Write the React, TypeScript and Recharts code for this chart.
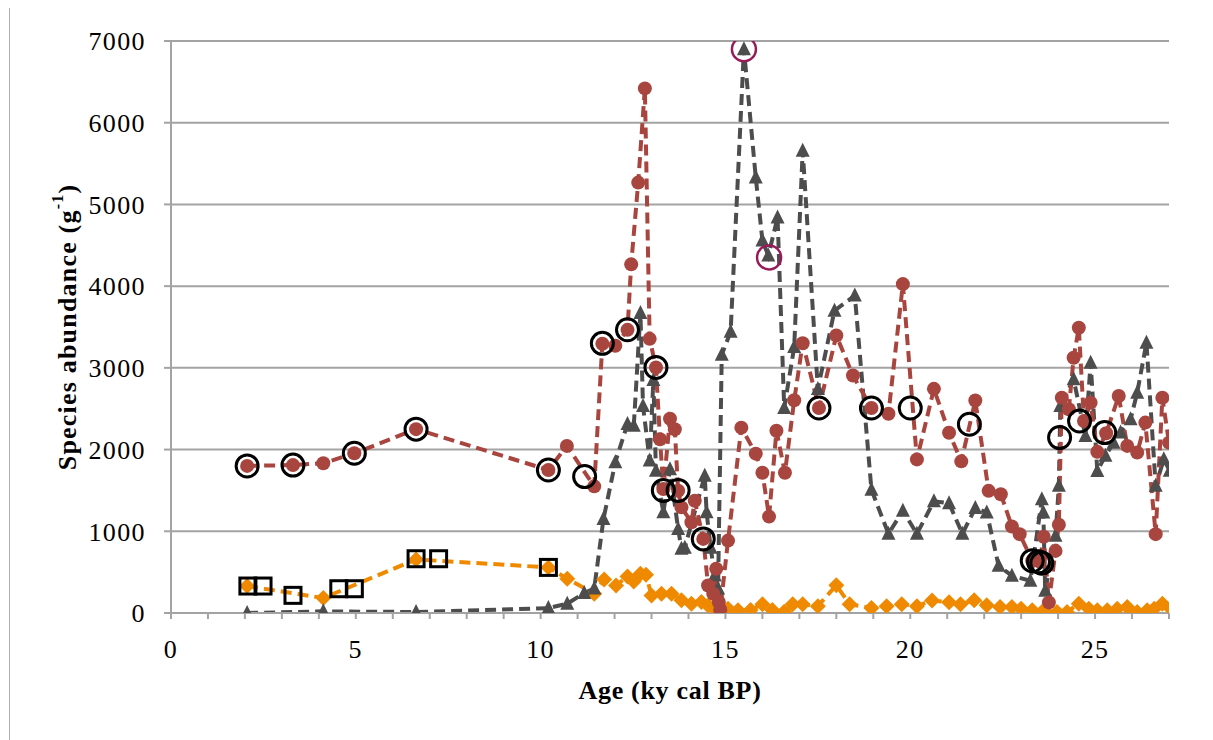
import React from "react";
import {
	ComposedChart,
	Line,
	Scatter,
	XAxis,
	YAxis,
	CartesianGrid,
	Label,
} from "recharts";

// ages (ky cal BP) and abundances
const redAge = [
	2.06, 3.3, 4.12, 4.96, 6.63, 10.21, 10.71, 11.45, 11.67, 12.02, 12.35, 12.45,
	12.64, 12.82, 12.95, 13.12, 13.23, 13.32, 13.5, 13.63, 13.72, 13.81, 14.08,
	14.17, 14.4, 14.53, 14.67, 14.75, 14.82, 14.86, 15.07, 15.43, 15.82, 16.0,
	16.18, 16.38, 16.61, 16.86, 17.09, 17.53, 18.0, 18.45, 18.95, 19.41, 19.8,
	20.18, 20.64, 21.05, 21.38, 21.76, 22.12, 22.45, 22.75, 22.96, 23.3, 23.5,
	23.61, 23.75, 23.93, 24.02, 24.1, 24.29, 24.42, 24.56, 24.7, 24.88, 25.06,
	25.3, 25.64, 25.87, 26.14, 26.36, 26.64, 26.82, 27.0,
];
const redVal = [
	1800, 1810, 1833, 1955, 2250, 1750, 2045, 1550, 3295, 3270, 3465, 4267,
	5267, 6420, 3355, 3005, 2126, 1516, 2378, 2248, 1496, 1293, 1110,
	1374, 907, 337, 236, 541, 134, 40, 886, 2268, 1950, 1716,
	1180, 2230, 1716, 2603, 3302, 2509, 3396, 2906, 2509, 2439, 4025,
	1880, 2743, 2206, 1856, 2600, 1495, 1454, 1059, 965, 640, 630,
	933, 130, 760, 1080, 2635, 2493, 3124, 3491, 2350, 2574, 1972,
	2200, 2656, 2045, 1963, 2330, 965, 2635, 2085,
];

const grayAge = [
	2.06, 4.12, 6.63, 10.21, 10.72, 11.18, 11.45, 11.7, 12.02, 12.35, 12.52, 12.7,
	12.77, 12.95, 13.05, 13.12, 13.32, 13.5, 13.72, 13.81, 13.9, 14.44, 14.49,
	14.6, 14.71, 14.8, 14.9, 15.14, 15.5, 15.82, 16.0, 16.16, 16.41, 16.59,
	16.86, 17.09, 17.5, 17.95, 18.5, 18.95, 19.41, 19.8, 20.18, 20.64, 21.05,
	21.41, 21.76, 22.07, 22.39, 22.75, 23.25, 23.56, 23.6, 23.65, 23.93, 24.02,
	24.06, 24.42, 24.74, 24.88, 25.06, 25.28, 25.5, 25.69, 25.96, 26.14, 26.39,
	26.64, 26.86, 27.02,
];
const grayVal = [
	0, 20, 12, 60, 114, 244, 300, 1150, 1845, 2314, 2290, 3670,
	2533, 1867, 2850, 1740, 1232, 1760, 1028, 785, 800, 1679, 1232,
	800, 459, 300, 3160, 3442, 6900, 5331, 4560, 4375, 4841, 2509,
	3256, 5658, 2742, 3699, 3885, 1507, 970, 1250, 970, 1367, 1343,
	970, 1285, 1230, 578, 456, 395, 1393, 1230, 273, 945, 1556,
	2533, 2860, 2167, 3063, 1739, 1923, 2085, 2208, 2370, 2696, 3308,
	1556, 1882, 1740,
];

const orangeAge = [
	2.06, 4.12, 6.63, 10.21, 10.72, 11.45, 11.72, 12.04, 12.35, 12.52, 12.7,
	12.85, 13.0, 13.27, 13.54, 13.81, 14.08, 14.35, 14.53, 14.76, 15.07, 15.34,
	15.68, 16.0, 16.27, 16.59, 16.82, 17.09, 17.5, 18.0, 18.36, 18.95, 19.36,
	19.77, 20.18, 20.59, 21.05, 21.36, 21.73, 22.07, 22.43, 22.75, 23.0, 23.3,
	23.56, 23.7, 23.97, 24.24, 24.56, 24.83, 25.06, 25.33, 25.6, 25.87, 26.14,
	26.41, 26.6, 26.82, 27.05,
];
const orangeVal = [
	330, 183, 656, 558, 420, 236, 411, 338, 448, 387, 481,
	468, 215, 236, 236, 155, 114, 134, 93, 33, 53, 33,
	37, 107, 37, 14, 107, 107, 84, 340, 107, 61, 84,
	107, 84, 154, 131, 107, 155, 94, 73, 73, 53, 33,
	12, 0, 12, 12, 114, 53, 33, 33, 53, 73, 12,
	33, 53, 114, 53,
];

// black open circles and squares, purple open circles
const ringAge = [
	2.06, 3.3, 4.96, 6.63, 10.21, 11.19, 11.67, 12.35, 13.12, 13.32, 13.72,
	14.4, 17.53, 18.95, 20.0, 21.6, 23.3, 23.47, 23.56, 24.04, 24.58, 25.26,
];
const ringVal = [
	1800, 1810, 1955, 2250, 1750, 1670, 3300, 3466, 3005, 1500, 1500,
	907, 2509, 2509, 2509, 2310, 640, 627, 610, 2147, 2350, 2208,
];
const squareAge = [2.08, 2.49, 3.3, 4.54, 4.96, 6.63, 7.24, 10.21];
const squareVal = [330, 330, 216, 297, 297, 664, 664, 558];
const purpleAge = [15.5, 16.18];
const purpleVal = [6900, 4352];

const xTicks = [
	0, 1, 2, 3, 4, 5, 6, 7, 8, 9, 10, 11, 12, 13, 14, 15, 16, 17, 18, 19, 20,
	21, 22, 23, 24, 25, 26, 27,
];
const yTicks = [0, 1000, 2000, 3000, 4000, 5000, 6000, 7000];

const zip = (a: number[], b: number[]) => a.map((x, i) => ({ x, y: b[i] }));

const red = zip(redAge, redVal);
const gray = zip(grayAge, grayVal);
const orange = zip(orangeAge, orangeVal);
const rings = zip(ringAge, ringVal);
const squares = zip(squareAge, squareVal);
const purple = zip(purpleAge, purpleVal);

const RED = "#a8453e";
const GRAY = "#4d4d4d";
const ORANGE = "#ef8a00";
const AXIS = "#a3a3a3";
const FONT = "'Liberation Serif', 'Times New Roman', serif";

const triangle = (p: any) => (
	<path
		key={`t-${p.index}`}
		d={`M${p.cx},${p.cy - 8} L${p.cx + 7},${p.cy + 6} L${p.cx - 7},${p.cy + 6} Z`}
		fill={GRAY}
	/>
);
const diamond = (p: any) => (
	<path
		key={`d-${p.index}`}
		d={`M${p.cx},${p.cy - 8} L${p.cx + 8},${p.cy} L${p.cx},${p.cy + 8} L${p.cx - 8},${p.cy} Z`}
		fill={ORANGE}
	/>
);
const dotRed = (p: any) => (
	<circle key={`r-${p.index}`} cx={p.cx} cy={p.cy} r={7} fill={RED} />
);

const ring = (p: any) => (
	<circle cx={p.cx} cy={p.cy} r={11} fill="none" stroke="#000" strokeWidth={3} />
);
const box = (p: any) => (
	<rect x={p.cx - 8} y={p.cy - 8} width={16} height={16} fill="none" stroke="#000" strokeWidth={3} />
);
const purpleRing = (p: any) => (
	<circle cx={p.cx} cy={p.cy} r={12} fill="none" stroke="#961b58" strokeWidth={2.5} />
);

const YTitle = (props: any) => {
	const vb = props.viewBox;
	const cx = vb.x + 59;
	const cy = vb.y + vb.height / 2;
	return (
		<text
			transform={`translate(${cx},${cy}) rotate(-90)`}
			textAnchor="middle"
			dominantBaseline="central"
			fontFamily={FONT}
			fontWeight="bold"
			fontSize={26}
			letterSpacing={1.2}
			fill="#000"
		>
			Species abundance (g
			<tspan fontSize={16} dy={-10}>-1</tspan>
			<tspan dy={10}>)</tspan>
		</text>
	);
};

const XTitle = (props: any) => {
	const vb = props.viewBox;
	return (
		<text
			x={vb.x + vb.width / 2}
			y={vb.y + 86}
			textAnchor="middle"
			fontFamily={FONT}
			fontWeight="bold"
			fontSize={26}
			letterSpacing={0.7}
			fill="#000"
		>
			Age (ky cal BP)
		</text>
	);
};

export default function App() {
	return (
		<div style={{ position: "relative", width: 1205, height: 732 }}>
			<div
				style={{
					position: "absolute",
					left: 1,
					top: -2,
					width: 1204,
					height: 734,
					borderLeft: "1.5px solid #b0b0b0",
					borderTop: "1.5px solid #b0b0b0",
					boxSizing: "border-box",
				}}
			/>
			<ComposedChart
				width={1205}
				height={732}
				margin={{ top: 33, right: 44, left: 0, bottom: 0 }}
			>
				<CartesianGrid vertical={false} stroke={AXIS} strokeWidth={2} />
				<XAxis
					type="number"
					dataKey="x"
					domain={[0, 27]}
					ticks={xTicks}
					interval={0}
					allowDataOverflow
					height={127}
					stroke={AXIS}
					strokeWidth={2}
					tickSize={6}
					tickMargin={21}
					tickFormatter={(v: number) => (v % 5 === 0 ? String(v) : "")}
					tick={{ fill: "#000", fontSize: 26, fontFamily: FONT, letterSpacing: 1.4 }}
				>
					<Label content={XTitle} />
				</XAxis>
				<YAxis
					type="number"
					dataKey="y"
					domain={[0, 7000]}
					ticks={yTicks}
					interval={0}
					allowDataOverflow
					width={163}
					stroke={AXIS}
					strokeWidth={2}
					tickSize={7}
					tickMargin={18}
					tick={{ fill: "#000", fontSize: 26, fontFamily: FONT, letterSpacing: 1.4 }}
				>
					<Label content={YTitle} />
				</YAxis>
				<Line
					data={orange}
					dataKey="y"
					stroke={ORANGE}
					strokeWidth={4}
					strokeDasharray="11 6"
					dot={diamond}
					activeDot={false}
					isAnimationActive={false}
				/>
				<Line
					data={gray}
					dataKey="y"
					stroke={GRAY}
					strokeWidth={4}
					strokeDasharray="11 6"
					dot={triangle}
					activeDot={false}
					isAnimationActive={false}
				/>
				<Line
					data={red}
					dataKey="y"
					stroke={RED}
					strokeWidth={4}
					strokeDasharray="11 6"
					dot={dotRed}
					activeDot={false}
					isAnimationActive={false}
				/>
				<Scatter data={rings} dataKey="y" shape={ring} isAnimationActive={false} />
				<Scatter data={squares} dataKey="y" shape={box} isAnimationActive={false} />
				<Scatter data={purple} dataKey="y" shape={purpleRing} isAnimationActive={false} />
			</ComposedChart>
		</div>
	);
}
